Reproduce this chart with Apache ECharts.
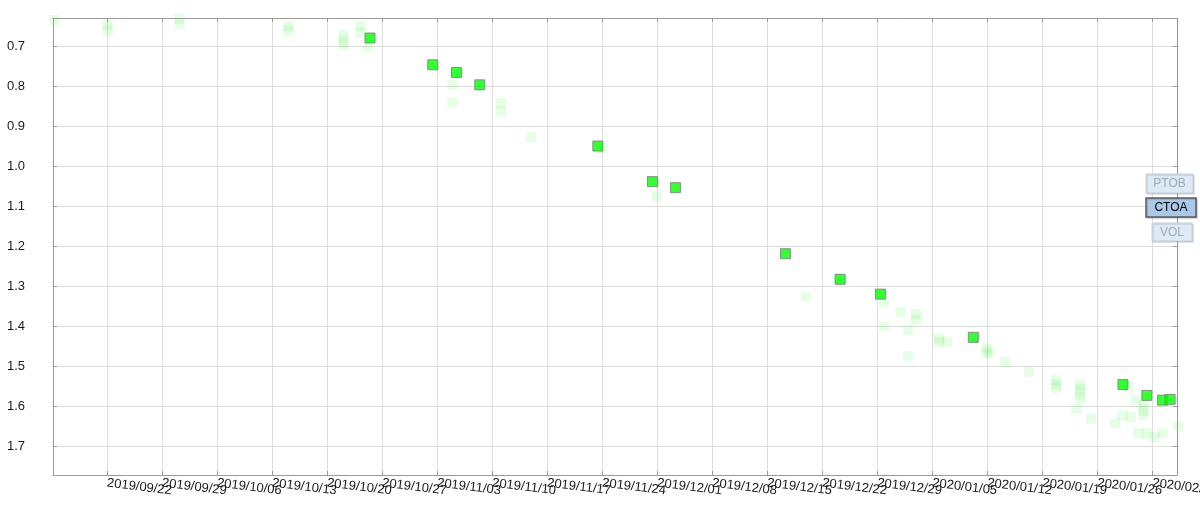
<!DOCTYPE html>
<html>
<head>
<meta charset="utf-8">
<script src="https://cdn.jsdelivr.net/npm/echarts@6/dist/echarts.min.js"></script>
<style>
html,body{margin:0;padding:0;background:#fff;}
#chart{width:1200px;height:505px;}
</style>
</head>
<body>
<div id="chart"></div>
<script>
// ---- data ----
const baseDate = '2019/09/22 00:00';           // a Sunday: weekly ticks are counted from here
const xRange = ['2019/09/15 03:00', '2020/02/05 03:00'];
const yRange = [0.629, 1.771];
const yTickStep = 0.1;
const xTickStepDays = 7;

const mainDates = [
  '2019/10/25 11:00','2019/11/02 10:30','2019/11/05 11:00','2019/11/08 10:00',
  '2019/11/23 10:30','2019/11/30 09:30','2019/12/03 07:30','2019/12/17 07:30',
  '2019/12/24 06:30','2019/12/29 09:30','2020/01/10 05:00','2020/01/29 06:00',
  '2020/02/01 07:00','2020/02/03 07:00','2020/02/04 06:00'
];
const mainValues = [
  0.679, 0.746, 0.765, 0.796,
  0.949, 1.038, 1.053, 1.218,
  1.282, 1.319, 1.427, 1.545,
  1.572, 1.584, 1.582
];

const faintDates = [
  '2019/09/15 06:00','2019/09/22 02:00','2019/09/22 02:00','2019/10/01 05:00','2019/10/01 05:00',
  '2019/10/15 02:00','2019/10/15 02:00','2019/10/22 02:00','2019/10/22 02:00','2019/10/22 02:00',
  '2019/10/24 05:00','2019/10/24 05:00','2019/10/25 05:00','2019/11/04 22:30','2019/11/04 22:30',
  '2019/11/11 03:00','2019/11/11 03:00','2019/11/14 23:00','2019/11/23 23:00','2019/11/30 22:30',
  '2019/12/19 21:30','2019/12/23 21:30','2019/12/29 20:00','2019/12/29 20:00','2019/12/31 23:00',
  '2020/01/02 21:30','2020/01/02 21:30','2020/01/01 21:30','2020/01/01 21:30','2020/01/05 21:00',
  '2020/01/05 21:00','2020/01/06 21:30','2020/01/11 21:30','2020/01/11 21:30','2020/01/12 07:00',
  '2020/01/14 07:00','2020/01/17 07:00','2020/01/20 18:00','2020/01/20 18:00','2020/01/20 18:00',
  '2020/01/23 19:00','2020/01/23 19:00','2020/01/23 19:00','2020/01/23 19:00','2020/01/23 07:00',
  '2020/01/25 05:00','2020/01/29 22:00','2020/01/30 22:00','2020/01/29 05:00','2020/01/30 06:00',
  '2020/01/28 06:00','2020/01/31 20:30','2020/01/31 20:30','2020/01/31 20:30','2020/01/31 05:00',
  '2020/02/01 07:00','2020/02/02 06:00','2020/02/03 07:00','2020/02/05 07:00'
];
const faintValues = [
  0.634, 0.646, 0.660, 0.631, 0.645,
  0.649, 0.660, 0.672, 0.685, 0.695,
  0.649, 0.666, 0.700, 0.796, 0.840,
  0.842, 0.863, 0.927, 0.955, 1.075,
  1.325, 1.280, 1.340, 1.399, 1.364,
  1.369, 1.383, 1.409, 1.474, 1.430,
  1.438, 1.438, 1.455, 1.467, 1.463,
  1.488, 1.513, 1.534, 1.545, 1.553,
  1.545, 1.556, 1.567, 1.580, 1.605,
  1.630, 1.550, 1.584, 1.621, 1.627,
  1.642, 1.596, 1.609, 1.621, 1.667,
  1.667, 1.676, 1.667, 1.649
];

const buttonLabels = ['PTOB', 'CTOA', 'VOL'];
const activeButton = 'CTOA';

// ---- helpers ----
function toMs(s) {
  const [d, t] = s.split(' ');
  const [y, m, day] = d.split('/').map(Number);
  const [h, mi] = (t || '00:00').split(':').map(Number);
  return Date.UTC(y, m - 1, day, h, mi);
}
const baseMs = toMs(baseDate);
const DAY = 86400000;
function toDays(s) { return (toMs(s) - baseMs) / DAY; }
function pad(n) { return n < 10 ? '0' + n : '' + n; }
function dayLabel(v) {
  const dt = new Date(baseMs + Math.round(v) * DAY);
  return dt.getUTCFullYear() + '/' + pad(dt.getUTCMonth() + 1) + '/' + pad(dt.getUTCDate());
}

const mainData = mainDates.map((d, i) => [toDays(d), mainValues[i]]);
const faintData = faintDates.map((d, i) => [toDays(d), faintValues[i]]);

const FONT = "'Liberation Sans', Arial, sans-serif";
const axisGray = '#9a9a9a';
const gridGray = '#dedede';

const xMin = toDays(xRange[0]), xMax = toDays(xRange[1]);

// buttons
const btnGeom = {
  PTOB: {x: 1146, y: 174, w: 47, h: 19},
  CTOA: {x: 1146, y: 198, w: 50, h: 19},
  VOL:  {x: 1152, y: 223, w: 40, h: 18}
};
const graphics = [];
buttonLabels.forEach(lbl => {
  const g = btnGeom[lbl];
  const active = lbl === activeButton;
  graphics.push({
    type: 'rect', z: 100,
    shape: {x: g.x, y: g.y, width: g.w, height: g.h},
    style: {
      fill: active ? '#a9c8ea' : '#dde9f6',
      stroke: active ? '#5b5b5b' : '#c6d3e0',
      lineWidth: active ? 1.5 : 1,
      shadowColor: 'rgba(0,0,0,0.18)', shadowOffsetX: 1, shadowOffsetY: 1, shadowBlur: 1
    }
  });
  graphics.push({
    type: 'text', z: 101,
    x: g.x + g.w / 2, y: g.y + g.h / 2 + 0.5,
    style: {
      text: lbl, fill: active ? '#000' : '#a3a9b0',
      font: '12px ' + FONT, align: 'center', verticalAlign: 'middle'
    }
  });
});

const commonLine = {show: true, onZero: false, lineStyle: {color: axisGray, width: 1}};
const commonTick = {show: true, inside: true, length: 4, lineStyle: {color: axisGray}};

const chart = echarts.init(document.getElementById('chart'), null, {renderer: 'canvas'});
chart.setOption({
  animation: false,
  backgroundColor: '#fff',
  grid: {left: 53, top: 18, right: 23, bottom: 30, containLabel: false, outerBoundsMode: 'none'},
  xAxis: [{
    type: 'value', min: xMin, max: xMax,
    minInterval: xTickStepDays, maxInterval: xTickStepDays, splitNumber: 20,
    axisLine: commonLine, axisTick: commonTick,
    splitLine: {show: true, lineStyle: {color: gridGray, width: 1}},
    axisLabel: {
      show: true, rotate: -7, margin: 8, fontSize: 13, color: '#1a1a1a', fontFamily: FONT,
      showMinLabel: false, showMaxLabel: false, hideOverlap: false,
      formatter: v => dayLabel(v)
    }
  }, {
    type: 'value', position: 'top', min: xMin, max: xMax,
    minInterval: xTickStepDays, maxInterval: xTickStepDays, splitNumber: 20,
    axisLine: commonLine, axisTick: commonTick,
    splitLine: {show: false}, axisLabel: {show: false}
  }],
  yAxis: [{
    type: 'value', inverse: true, min: yRange[0], max: yRange[1],
    minInterval: yTickStep, maxInterval: yTickStep, splitNumber: 11,
    axisLine: commonLine, axisTick: commonTick,
    splitLine: {show: true, lineStyle: {color: gridGray, width: 1}},
    axisLabel: {
      show: true, margin: 28, fontSize: 13, color: '#1a1a1a', fontFamily: FONT,
      showMinLabel: false, showMaxLabel: false,
      formatter: v => v.toFixed(1)
    }
  }, {
    type: 'value', position: 'right', inverse: true, min: yRange[0], max: yRange[1],
    minInterval: yTickStep, maxInterval: yTickStep, splitNumber: 11,
    axisLine: commonLine, axisTick: commonTick,
    splitLine: {show: false}, axisLabel: {show: false}
  }],
  series: [{
    name: 'faint', type: 'scatter', symbol: 'rect', symbolSize: 10,
    clip: false, silent: true, z: 2,
    itemStyle: {color: 'rgba(0,235,0,0.12)'},
    data: faintData
  }, {
    name: 'CTOA', type: 'scatter', symbol: 'rect', symbolSize: 10,
    clip: false, z: 3,
    itemStyle: {color: '#00ff00', borderColor: '#7a7a7a', borderWidth: 1},
    data: mainData
  }],
  graphic: graphics
});
</script>
</body>
</html>
